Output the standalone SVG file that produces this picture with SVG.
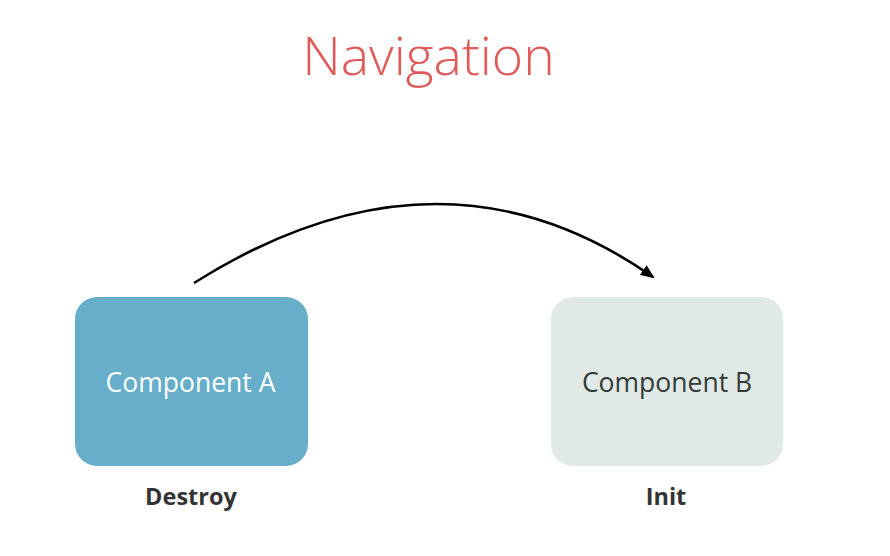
<svg xmlns="http://www.w3.org/2000/svg" width="890" height="556" viewBox="0 0 890 556">
<style>
.title{font-family:"Open Sans","Liberation Sans",sans-serif;font-weight:300;font-size:53.5px;fill:#e05a5a}
.lbl{font-family:"Open Sans","Liberation Sans",sans-serif;font-size:26.5px;font-weight:400}
.cap{font-family:"Open Sans","Liberation Sans",sans-serif;font-size:23.5px;font-weight:700;fill:#333333}
.conn{fill:none;stroke:#000;stroke-width:2.6}
</style>
<defs>
<marker id="ah" markerWidth="14" markerHeight="12" refX="12" refY="6" orient="auto" markerUnits="userSpaceOnUse">
<path d="M0,0 L14,6 L0,12 Z" fill="#000"/>
</marker>
</defs>
<rect width="890" height="556" fill="#fff"/>
<text class="title" x="428.5" y="75" text-anchor="middle">Navigation</text>
<g id="componentA">
<rect x="75" y="297" width="233" height="169" rx="22" fill="#66aec9"/>
<text class="lbl" x="190.5" y="392" text-anchor="middle" fill="#ffffff">Component A</text>
<text class="cap" x="191" y="505" text-anchor="middle">Destroy</text>
</g>
<g id="componentB">
<rect x="551" y="297" width="232" height="169" rx="22" fill="#e0e9e5"/>
<text class="lbl" x="667" y="392" text-anchor="middle" fill="#333b39">Component B</text>
<text class="cap" x="666" y="505" text-anchor="middle">Init</text>
</g>
<g id="connectors">
<path class="conn" d="M194,283 Q440,128 653,277" marker-end="url(#ah)"/>
</g>
</svg>
